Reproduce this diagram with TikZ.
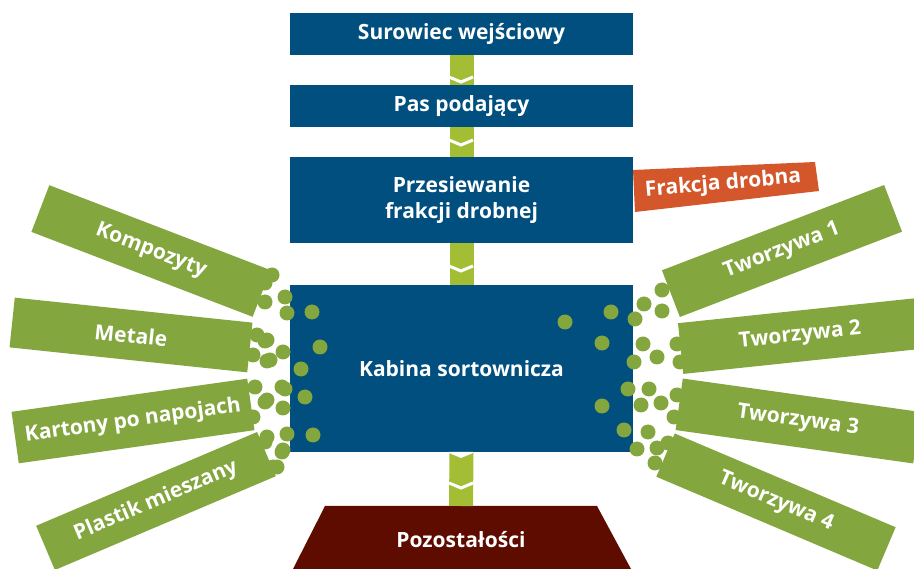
\documentclass[tikz,border=0pt]{standalone}
\usepackage{fontspec}
\setmainfont{Open Sans}
\usetikzlibrary{calc}
\definecolor{procblue}{HTML}{004F7F}
\definecolor{sortgreen}{HTML}{84A63E}
\definecolor{flowgreen}{HTML}{A3BE34}
\definecolor{fineorange}{HTML}{D4562B}
\definecolor{restbrown}{HTML}{5E0C00}
\begin{document}
\begin{tikzpicture}[x=1pt,y=-1pt,
  txt/.style={text=white,font=\fontsize{21}{26}\selectfont\bfseries,align=center},
  procbox/.style={txt,fill=procblue,minimum width=343,inner sep=0pt},
  sortbox/.style={txt,fill=sortgreen,inner sep=0pt},
  flow/.style={draw=flowgreen,line width=24pt},
  chevron/.style={draw=white,line width=3pt},
  pellet/.style={fill=sortgreen}]
\clip (0,0) rectangle (914,569);

% main process column
\node[procbox,minimum height=42] (s1) at (461.5,34) {Surowiec wejściowy};
\node[procbox,minimum height=42] (s2) at (461.5,106) {Pas podający};
\node[procbox,minimum height=86] (s3) at (461.5,200) {Przesiewanie\\frakcji drobnej};
\node[procbox,minimum height=167] (s4) at (461.5,368.5) {Kabina sortownicza};

% residue trapezoid
\coordinate (restTop) at (461,506);
\fill[restbrown] (325,506) -- (597,506) -- (631,569) -- (293,569) -- cycle;
\node[txt] (rest) at (461,540) {Pozostałości};

% green flow connectors with chevrons
\draw[flow] (s1.south) -- (s2.north);
\draw[flow] (s2.south) -- (s3.north);
\draw[flow] (s3.south) -- (s4.north);
\draw[flow] (s4.south) -- (restTop);
\foreach \y in {82,145,271,488}
  \draw[chevron] (449,\y-5) -- (461,\y) -- (473,\y-5);
\fill[white] (449,452) -- (473,452) -- (473,453) -- (461,458) -- (449,453) -- cycle;

% fine fraction output
\fill[fineorange] (633,170) -- (815,162) -- (819,191) -- (635,212) -- cycle;
\node[txt,rotate=5] (fine) at (723,184) {Frakcja drobna};

% sorted fractions, left
\node[sortbox,minimum width=237,minimum height=50,rotate=-21] (k1) at (151,251) {Kompozyty};
\node[sortbox,minimum width=239,minimum height=50,rotate=-6] (k2) at (131,335) {Metale};
\node[sortbox,minimum width=238,minimum height=52,rotate=8] (k3) at (133,421) {Kartony po napojach};
\node[sortbox,minimum width=240,minimum height=48,rotate=23] (k4) at (156,501) {Plastik mieszany};

% sorted fractions, right
\node[sortbox,minimum width=238,minimum height=50,rotate=21] (t1) at (782,251) {Tworzywa 1};
\node[sortbox,minimum width=240,minimum height=51,rotate=6] (t2) at (800,336) {Tworzywa 2};
\node[sortbox,minimum width=240,minimum height=52,rotate=-8] (t3) at (798,421) {Tworzywa 3};
\node[sortbox,minimum width=240,minimum height=47,rotate=-23] (t4) at (776,502) {Tworzywa 4};

% pellets scattered from the cabin
\foreach \px/\py in {285/297,265/302,287/313,312/312,265/341,283/352,320/347,267/361,301/369,
  285/389,265/402,305/397,283/408,287/434,265/442,313/435,282/452,273/467,265/283,272/275,
  257/335,253/355,267/340,270/360,255/387,253/417,267/400,282/387,267/437,283/450,277/467}
  \fill[pellet] (\px,\py) circle (7.5);
\foreach \px/\py in {565/322,611/312,602/343,635/319,644/304,662/311,662/290,643/344,657/357,
  634/362,677/344,680/362,628/389,649/389,641/405,661/403,677/395,674/417,602/406,624/430,
  648/432,637/449,657/448,668/443,655/463}
  \fill[pellet] (\px,\py) circle (7.5);
\end{tikzpicture}
\end{document}
